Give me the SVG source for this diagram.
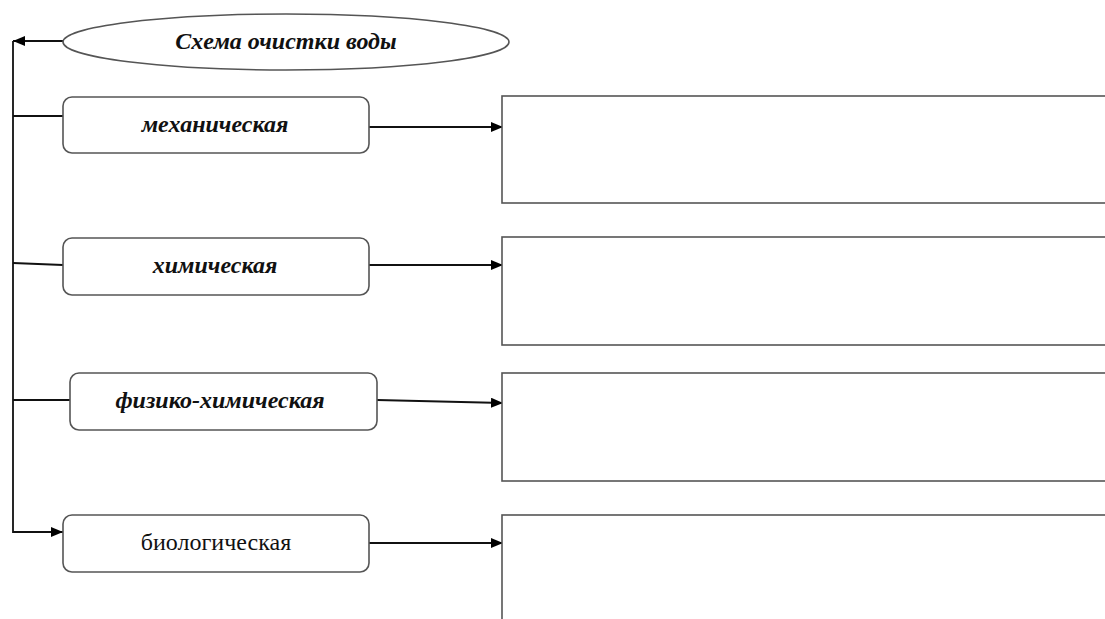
<svg xmlns="http://www.w3.org/2000/svg" width="1105" height="619" viewBox="0 0 1105 619">
<defs>
<marker id="ah" markerWidth="12" markerHeight="10" refX="12" refY="5" orient="auto" markerUnits="userSpaceOnUse">
<path d="M0,0 L12,5 L0,10 Z" fill="#000"/>
</marker>
<style>
.bx{fill:#fff;stroke:#555;stroke-width:1.6}
.rb{fill:#fff;stroke:#555;stroke-width:1.6}
.ln{fill:none;stroke:#111;stroke-width:1.8}
.t{font-family:"Liberation Serif","Times New Roman",serif;font-size:24px;fill:#111;text-anchor:middle}
.bi{font-weight:bold;font-style:italic}
</style>
</defs>
<rect width="1105" height="619" fill="#fff"/>
<g id="connectors">
<path class="ln" d="M63,41 L13,41" marker-end="url(#ah)"/>
<path class="ln" d="M13,41 L13,532 L63,532" marker-end="url(#ah)"/>
<path class="ln" d="M13,116 L63,116"/>
<path class="ln" d="M13,263 L63,265"/>
<path class="ln" d="M13,400 L70,400"/>
<path class="ln" d="M369,127 L503,127" marker-end="url(#ah)"/>
<path class="ln" d="M369,265 L503,265" marker-end="url(#ah)"/>
<path class="ln" d="M377,400 L503,403" marker-end="url(#ah)"/>
<path class="ln" d="M369,543 L503,543" marker-end="url(#ah)"/>
</g>
<g id="title">
<ellipse class="bx" cx="286" cy="42" rx="223" ry="28"/>
<text class="t bi" x="286" y="49">Схема очистки воды</text>
</g>
<g id="mech">
<rect class="bx" x="63" y="97" width="306" height="56" rx="9"/>
<text class="t bi" x="215" y="132">механическая</text>
</g>
<g id="chem">
<rect class="bx" x="63" y="238" width="306" height="57" rx="9"/>
<text class="t bi" x="215" y="273">химическая</text>
</g>
<g id="physchem">
<rect class="bx" x="70" y="373" width="307" height="57" rx="9"/>
<text class="t bi" x="220" y="408">физико-химическая</text>
</g>
<g id="bio">
<rect class="bx" x="63" y="515" width="306" height="57" rx="9"/>
<text class="t" x="216" y="550">биологическая</text>
</g>
<g id="box1"><rect class="rb" x="502" y="96" width="620" height="107"/></g>
<g id="box2"><rect class="rb" x="502" y="237" width="620" height="108"/></g>
<g id="box3"><rect class="rb" x="502" y="373" width="620" height="108"/></g>
<g id="box4"><rect class="rb" x="502" y="515" width="620" height="120"/></g>
</svg>
